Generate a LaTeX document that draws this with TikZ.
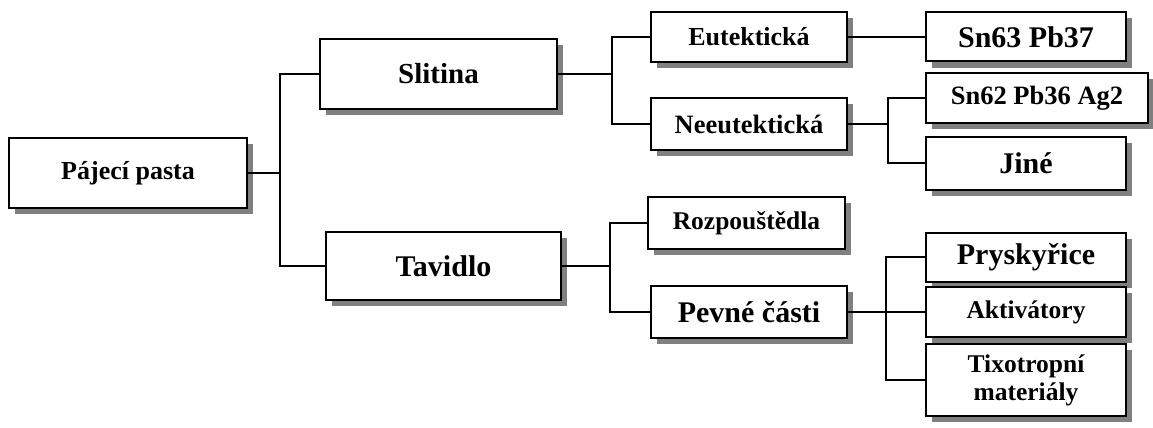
\documentclass[tikz,border=0pt]{standalone}
\usepackage{fontspec}
\setmainfont{Liberation Serif}
\usetikzlibrary{shadows}
\tikzset{
  box/.style={draw=black, line width=2pt, fill=white, inner sep=0pt, align=center,
    general shadow={fill=black!50, shadow xshift=6pt, shadow yshift=-6pt}},
  link/.style={draw=black, line width=1.6pt},
}
\newcommand{\fsz}[1]{\bfseries\fontsize{#1}{28}\selectfont}
\begin{document}
\begin{tikzpicture}[x=1pt, y=-1pt]
\useasboundingbox (0,0) rectangle (1153,428);
% level 0
\node[box, minimum width=238pt, minimum height=70pt, font=\fsz{26}] (pasta) at (128,173) {Pájecí pasta};
% level 1
\node[box, minimum width=237pt, minimum height=69pt, font=\fsz{29}] (slitina) at (438.5,74) {Slitina};
\node[box, minimum width=235pt, minimum height=68pt, font=\fsz{30}] (tavidlo) at (443.5,266) {Tavidlo};
% level 2
\node[box, minimum width=196pt, minimum height=50pt, font=\fsz{26}] (eut) at (749,37) {Eutektická};
\node[box, minimum width=196pt, minimum height=52pt, font=\fsz{26.5}] (neeut) at (749,124) {Neeutektická};
\node[box, minimum width=197pt, minimum height=52pt, font=\fsz{25.5}] (rozp) at (746.5,223) {Rozpouštědla};
\node[box, minimum width=196pt, minimum height=52pt, font=\fsz{30}] (pevne) at (749,312) {Pevné části};
% level 3
\node[box, minimum width=200pt, minimum height=49pt, font=\fsz{30}] (sn63) at (1026,37) {Sn63 Pb37};
\node[box, minimum width=222pt, minimum height=50pt, font=\fsz{26.5}] (sn62) at (1037,98) {Sn62 Pb36 Ag2};
\node[box, minimum width=200pt, minimum height=53pt, font=\fsz{30}] (jine) at (1026,163) {Jiné};
\node[box, minimum width=200pt, minimum height=49pt, font=\fsz{30}] (prysk) at (1026,257) {Pryskyřice};
\node[box, minimum width=200pt, minimum height=50pt, font=\fsz{25.5}] (akt) at (1026,312) {Aktivátory};
\node[box, minimum width=200pt, minimum height=72pt, font=\fsz{25.5}] (tixo) at (1026,380) {Tixotropní\\materiály};
% junctions
\coordinate (j1) at (280,173);
\coordinate (j2) at (612,74);
\coordinate (j3) at (610,266);
\coordinate (j4) at (888,124);
\coordinate (j5) at (886,312);
% connectors
\draw[link] (pasta.east) -- (j1);
\draw[link] (slitina.west) -| (j1) |- (tavidlo.west);
\draw[link] (slitina.east) -- (j2);
\draw[link] (eut.west) -| (j2) |- (neeut.west);
\draw[link] (tavidlo.east) -- (j3);
\draw[link] (rozp.west) -| (j3) |- (pevne.west);
\draw[link] (eut.east) -- (sn63.west);
\draw[link] (neeut.east) -- (j4);
\draw[link] (sn62.west) -| (j4) |- (jine.west);
\draw[link] (pevne.east) -- (j5) -- (akt.west);
\draw[link] (prysk.west) -| (j5) |- (tixo.west);
\end{tikzpicture}
\end{document}
